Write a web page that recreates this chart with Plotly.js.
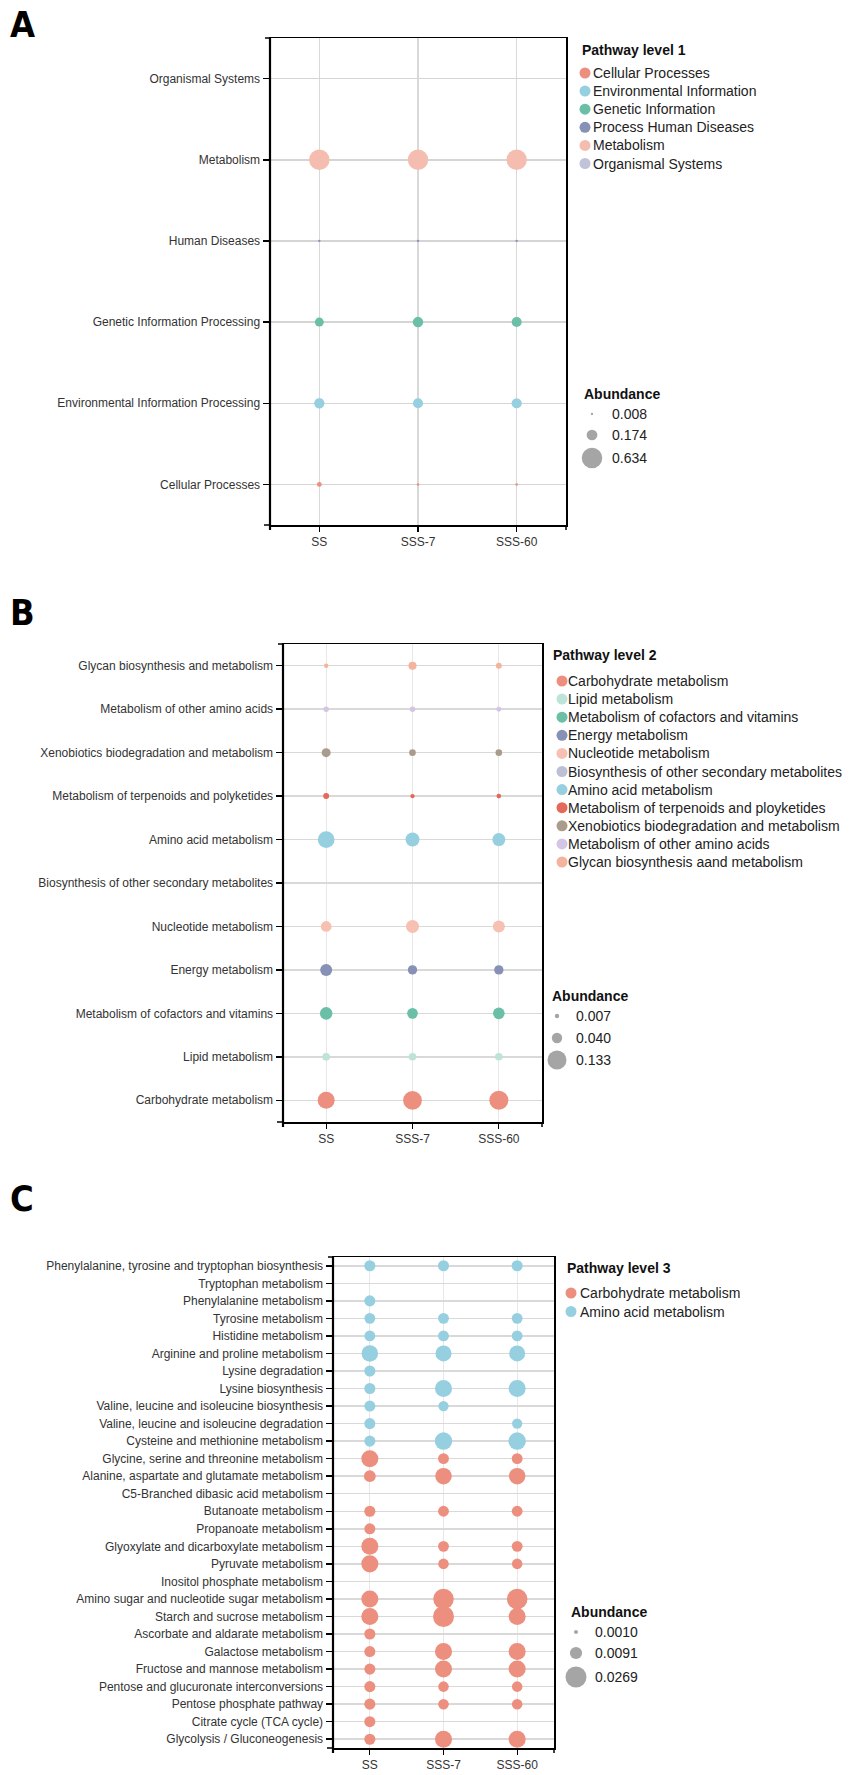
<!DOCTYPE html>
<html><head><meta charset="utf-8">
<script src="https://cdn.plot.ly/plotly-3.0.1.min.js"></script>
<style>html,body{margin:0;padding:0;background:#fff}#chart{width:854px;height:1775px}</style>
</head><body><div id="chart"></div>
<script>
// ---------------- DATA ----------------
const samples = ['SS', 'SSS-7', 'SSS-60'];

// Panel A: Pathway level 1 (bottom -> top)
const l1Pathways = ['Cellular Processes', 'Environmental Information Processing', 'Genetic Information Processing',
  'Human Diseases', 'Metabolism', 'Organismal Systems'];
const l1_SS    = [0.035, 0.160, 0.120, 0.008, 0.634, 0];
const l1_SSS7  = [0.009, 0.155, 0.165, 0.008, 0.628, 0];
const l1_SSS60 = [0.010, 0.158, 0.150, 0.008, 0.625, 0];
const l1LegendLabels = ['Cellular Processes', 'Environmental Information', 'Genetic Information',
  'Process Human Diseases', 'Metabolism', 'Organismal Systems'];
const l1SizeTicks = [0.008, 0.174, 0.634];
const l1SizeTickText = ['0.008', '0.174', '0.634'];

// Panel B: Pathway level 2 (bottom -> top)
const l2Pathways = ['Carbohydrate metabolism', 'Lipid metabolism', 'Metabolism of cofactors and vitamins',
  'Energy metabolism', 'Nucleotide metabolism', 'Biosynthesis of other secondary metabolites',
  'Amino acid metabolism', 'Metabolism of terpenoids and polyketides', 'Xenobiotics biodegradation and metabolism',
  'Metabolism of other amino acids', 'Glycan biosynthesis and metabolism'];
const l2_SS    = [0.106, 0.022, 0.058, 0.053, 0.042, 0, 0.103, 0.013, 0.030, 0.011, 0.007];
const l2_SSS7  = [0.130, 0.021, 0.042, 0.032, 0.062, 0, 0.072, 0.007, 0.016, 0.011, 0.024];
const l2_SSS60 = [0.133, 0.021, 0.050, 0.032, 0.053, 0, 0.062, 0.008, 0.016, 0.009, 0.013];
const l2LegendLabels = ['Carbohydrate metabolism', 'Lipid metabolism', 'Metabolism of cofactors and vitamins',
  'Energy metabolism', 'Nucleotide metabolism', 'Biosynthesis of other secondary metabolites',
  'Amino acid metabolism', 'Metabolism of terpenoids and ployketides', 'Xenobiotics biodegradation and metabolism',
  'Metabolism of other amino acids', 'Glycan biosynthesis aand metabolism'];
const l2SizeTicks = [0.007, 0.040, 0.133];
const l2SizeTickText = ['0.007', '0.040', '0.133'];

// Panel C: Pathway level 3 (bottom -> top)
const l3Pathways = ['Glycolysis / Gluconeogenesis', 'Citrate cycle (TCA cycle)', 'Pentose phosphate pathway',
  'Pentose and glucuronate interconversions', 'Fructose and mannose metabolism', 'Galactose metabolism',
  'Ascorbate and aldarate metabolism', 'Starch and sucrose metabolism', 'Amino sugar and nucleotide sugar metabolism',
  'Inositol phosphate metabolism', 'Pyruvate metabolism', 'Glyoxylate and dicarboxylate metabolism',
  'Propanoate metabolism', 'Butanoate metabolism', 'C5-Branched dibasic acid metabolism',
  'Alanine, aspartate and glutamate metabolism', 'Glycine, serine and threonine metabolism',
  'Cysteine and methionine metabolism', 'Valine, leucine and isoleucine degradation',
  'Valine, leucine and isoleucine biosynthesis', 'Lysine biosynthesis', 'Lysine degradation',
  'Arginine and proline metabolism', 'Histidine metabolism', 'Tyrosine metabolism',
  'Phenylalanine metabolism', 'Tryptophan metabolism', 'Phenylalanine, tyrosine and tryptophan biosynthesis'];
const l3Group = ['Carbohydrate metabolism', 'Carbohydrate metabolism', 'Carbohydrate metabolism', 'Carbohydrate metabolism',
  'Carbohydrate metabolism', 'Carbohydrate metabolism', 'Carbohydrate metabolism', 'Carbohydrate metabolism',
  'Carbohydrate metabolism', 'Carbohydrate metabolism', 'Carbohydrate metabolism', 'Carbohydrate metabolism',
  'Carbohydrate metabolism', 'Carbohydrate metabolism', 'Carbohydrate metabolism', 'Carbohydrate metabolism',
  'Carbohydrate metabolism',
  'Amino acid metabolism', 'Amino acid metabolism', 'Amino acid metabolism', 'Amino acid metabolism',
  'Amino acid metabolism', 'Amino acid metabolism', 'Amino acid metabolism', 'Amino acid metabolism',
  'Amino acid metabolism', 'Amino acid metabolism', 'Amino acid metabolism'];
const l3_SS    = [0.0075, 0.0075, 0.0075, 0.0075, 0.0075, 0.0075, 0.0075, 0.0177, 0.0177, 0, 0.0177, 0.0177,
  0.0075, 0.0075, 0, 0.0085, 0.0177, 0.0075, 0.0075, 0.0075, 0.0075, 0.0075, 0.0166, 0.0072, 0.0072, 0.0075, 0, 0.0075];
const l3_SSS7  = [0.0177, 0, 0.0068, 0.0068, 0.0177, 0.0177, 0, 0.0269, 0.0258, 0, 0.0068, 0.0072,
  0, 0.0072, 0, 0.0166, 0.0072, 0.0187, 0, 0.0065, 0.0177, 0, 0.0157, 0.0072, 0.0072, 0, 0, 0.0075];
const l3_SSS60 = [0.0177, 0, 0.0068, 0.0068, 0.0177, 0.0177, 0, 0.0177, 0.0258, 0, 0.0068, 0.0072,
  0, 0.0072, 0, 0.0166, 0.0072, 0.0187, 0.0065, 0, 0.0177, 0, 0.0157, 0.0072, 0.0072, 0, 0, 0.0075];
const l3LegendLabels = ['Carbohydrate metabolism', 'Amino acid metabolism'];
const l3SizeTicks = [0.0010, 0.0091, 0.0269];
const l3SizeTickText = ['0.0010', '0.0091', '0.0269'];

// ---------------- STYLE / LAYOUT ----------------
const W = 854, H = 1775;
const FONT = '"Liberation Sans", Arial, Helvetica, sans-serif';
const LETTER_FONT = '"Liberation Sans Narrow", "Arial Narrow", "DejaVu Sans Condensed", "Liberation Sans", sans-serif';
const fx = p => p / W;
const fy = p => 1 - p / H;

const l1Colors = ['#EC8F7F', '#96D0E0', '#6BBFA7', '#8790B5', '#F5BDB0', '#C0C3DA'];
const l2Colors = ['#EC8F7F', '#BEE3D8', '#6BBFA7', '#8790B5', '#F6C0B2', '#BCBFD6', '#96D0E0', '#E5695B', '#A99C8B', '#D3C5E3', '#F3B39C'];
const l3GroupColors = {'Carbohydrate metabolism': '#EC8F7F', 'Amino acid metabolism': '#96D0E0'};

const panels = [
  { letter: 'A', letterY: 24, xa: 'x', ya: 'y', cats: l1Pathways, vals: [l1_SS, l1_SSS7, l1_SSS60],
    colors: l1Colors, legendLabels: l1LegendLabels, legendColors: l1Colors, legendTitle: 'Pathway level 1',
    left: 270, right: 566, top: 38, bottom: 525, vmax: 0.634, dmax: 20.5,
    xgrid: '#D9D9D9', xgw: 1.2, ygrid: '#D5D5D5', ygw: 1.5,
    lg: {tx: 582, ty: 50, mx: 585, txl: 593, y0: 73, dy: 18.1},
    sz: {ticks: l1SizeTicks, text: l1SizeTickText, tx: 584, ty: 394, mx: 592, txl: 612, ys: [414, 435, 458]} },
  { letter: 'B', letterY: 612, xa: 'x2', ya: 'y2', cats: l2Pathways, vals: [l2_SS, l2_SSS7, l2_SSS60],
    colors: l2Colors, legendLabels: l2LegendLabels, legendColors: l2Colors, legendTitle: 'Pathway level 2',
    left: 283, right: 542, top: 644, bottom: 1122, vmax: 0.133, dmax: 19,
    xgrid: '#E8E8E8', xgw: 1, ygrid: '#D9D9D9', ygw: 1.5,
    lg: {tx: 553, ty: 655, mx: 562, txl: 568, y0: 681, dy: 18.1},
    sz: {ticks: l2SizeTicks, text: l2SizeTickText, tx: 552, ty: 996, mx: 557, txl: 576, ys: [1016, 1038, 1060]} },
  { letter: 'C', letterY: 1198, xa: 'x3', ya: 'y3', cats: l3Pathways, vals: [l3_SS, l3_SSS7, l3_SSS60],
    colors: l3Group.map(g => l3GroupColors[g]), legendLabels: l3LegendLabels,
    legendColors: l3LegendLabels.map(g => l3GroupColors[g]), legendTitle: 'Pathway level 3',
    left: 333, right: 554, top: 1257, bottom: 1748, vmax: 0.0269, dmax: 21,
    xgrid: '#E8E8E8', xgw: 1, ygrid: '#D9D9D9', ygw: 1.5,
    lg: {tx: 567, ty: 1268, mx: 571, txl: 580, y0: 1293, dy: 18.5},
    sz: {ticks: l3SizeTicks, text: l3SizeTickText, tx: 571, ty: 1612, mx: 576, txl: 595, ys: [1632, 1653, 1677]} }
];

const data = [];
const annotations = [];
const shapes = [];
const layout = {
  width: W, height: H, margin: {l: 0, r: 0, t: 0, b: 0},
  paper_bgcolor: '#ffffff', plot_bgcolor: 'rgba(0,0,0,0)',
  showlegend: false, font: {family: FONT, color: '#222'},
  xaxis4: {domain: [0, 1], range: [0, W], visible: false, fixedrange: true},
  yaxis4: {domain: [0, 1], range: [H, 0], visible: false, fixedrange: true},
  annotations: annotations, shapes: shapes
};

panels.forEach((p, k) => {
  const sizeref = 2 * p.vmax / (p.dmax * p.dmax);
  // bubbles
  samples.forEach((s, j) => {
    data.push({
      type: 'scatter', mode: 'markers', xaxis: p.xa, yaxis: p.ya,
      x: p.cats.map(() => s), y: p.cats,
      marker: {size: p.vals[j], sizemode: 'area', sizeref: sizeref, color: p.colors, line: {width: 0}, opacity: 1},
      hoverinfo: 'x+y', cliponaxis: false
    });
  });
  const axSuffix = k === 0 ? '' : String(k + 1);
  const common = {
    showline: true, mirror: true, linecolor: '#000', linewidth: 1.5,
    ticks: 'outside', tickcolor: '#000', zeroline: false, fixedrange: true, automargin: false,
    tickfont: {family: FONT, size: 12, color: '#333'}, showgrid: true
  };
  layout['xaxis' + axSuffix] = Object.assign({}, common, {
    domain: [fx(p.left), fx(p.right)], anchor: 'y' + axSuffix,
    type: 'category', categoryorder: 'array', categoryarray: samples, range: [-0.5, samples.length - 0.5],
    ticklen: 5, tickwidth: 1.2, gridcolor: p.xgrid, gridwidth: p.xgw
  });
  layout['yaxis' + axSuffix] = Object.assign({}, common, {
    domain: [fy(p.bottom), fy(p.top)], anchor: 'x' + axSuffix,
    type: 'category', categoryorder: 'array', categoryarray: p.cats, range: [-0.5, p.cats.length - 0.5],
    ticklen: 6, tickwidth: 1.5, gridcolor: p.ygrid, gridwidth: p.ygw
  });
  // end ticks on the axes frame + heavier left axis line
  const ln = {type: 'line', xref: 'x4', yref: 'y4', line: {color: '#000', width: 1.5}};
  shapes.push(Object.assign({}, ln, {x0: p.left, x1: p.left, y0: p.top, y1: p.bottom + 5, line: {color: '#000', width: 2.2}}));
  shapes.push(Object.assign({}, ln, {x0: p.right, x1: p.right, y0: p.bottom, y1: p.bottom + 5}));
  shapes.push(Object.assign({}, ln, {x0: p.left - 6, x1: p.left, y0: p.bottom, y1: p.bottom}));
  shapes.push(Object.assign({}, ln, {x0: p.left - 5, x1: p.left, y0: p.top, y1: p.top}));

  // panel letter
  annotations.push({xref: 'x4', yref: 'y4', x: 8, y: p.letterY, xanchor: 'left', yanchor: 'middle',
    text: '<b>' + p.letter + '</b>', showarrow: false, font: {family: LETTER_FONT, size: 36, color: '#000'}});

  // pathway legend
  annotations.push({xref: 'x4', yref: 'y4', x: p.lg.tx - 2, y: p.lg.ty, xanchor: 'left', yanchor: 'middle',
    text: '<b>' + p.legendTitle + '</b>', showarrow: false, font: {family: FONT, size: 14, color: '#111'}});
  const lgY = p.legendLabels.map((_, i) => p.lg.y0 + i * p.lg.dy);
  data.push({type: 'scatter', mode: 'markers', xaxis: 'x4', yaxis: 'y4', hoverinfo: 'skip',
    x: p.legendLabels.map(() => p.lg.mx), y: lgY,
    marker: {size: 11, color: p.legendColors, line: {width: 0}}});
  p.legendLabels.forEach((t, i) => {
    annotations.push({xref: 'x4', yref: 'y4', x: p.lg.txl - 2, y: lgY[i], xanchor: 'left', yanchor: 'middle',
      text: t, showarrow: false, font: {family: FONT, size: 14, color: '#222'}});
  });

  // size legend
  annotations.push({xref: 'x4', yref: 'y4', x: p.sz.tx - 2, y: p.sz.ty, xanchor: 'left', yanchor: 'middle',
    text: '<b>Abundance</b>', showarrow: false, font: {family: FONT, size: 14, color: '#111'}});
  data.push({type: 'scatter', mode: 'markers', xaxis: 'x4', yaxis: 'y4', hoverinfo: 'skip',
    x: p.sz.ticks.map(() => p.sz.mx), y: p.sz.ys,
    marker: {size: p.sz.ticks, sizemode: 'area', sizeref: sizeref, color: '#7F7F7F', line: {width: 0}}});
  p.sz.text.forEach((t, i) => {
    annotations.push({xref: 'x4', yref: 'y4', x: p.sz.txl - 2, y: p.sz.ys[i], xanchor: 'left', yanchor: 'middle',
      text: t, showarrow: false, font: {family: FONT, size: 14, color: '#222'}});
  });
});

Plotly.newPlot('chart', data, layout, {staticPlot: true, displayModeBar: false});
</script>
</body></html>
